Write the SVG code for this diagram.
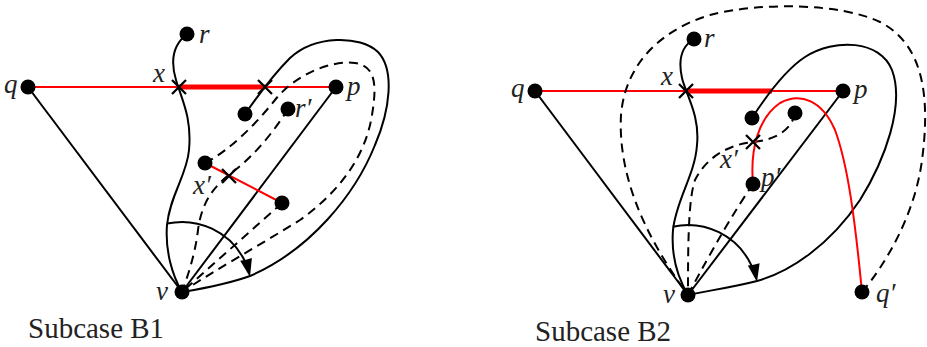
<svg xmlns="http://www.w3.org/2000/svg" width="927" height="347" viewBox="0 0 927 347">
<style>
.e{fill:none;stroke:#000;stroke-width:2}
.d{fill:none;stroke:#000;stroke-width:2;stroke-dasharray:9 6}
.r{fill:none;stroke:#f00;stroke-width:2}
.rt{fill:none;stroke:#f00;stroke-width:5}
.x{fill:none;stroke:#000;stroke-width:2.3}
.n{fill:#000}
.a{fill:#000}
.l{font-family:"Liberation Serif","DejaVu Serif",serif;font-style:italic;font-size:27px;fill:#222}
.c{font-family:"Liberation Serif","DejaVu Serif",serif;font-size:29px;fill:#222}
</style>
<g id="connectors">
<!-- left figure -->
<line class="r" x1="28" y1="87" x2="336" y2="87"/>
<line class="rt" x1="179" y1="87" x2="265" y2="87"/>
<line class="e" x1="28" y1="87" x2="182" y2="292"/>
<line class="e" x1="336" y1="87" x2="182" y2="292"/>
<path class="e" d="M187,34 C174,44 170,60 176,80 C182,100 192,118 189,150 C187,175 170,195 167,225 C165,250 172,275 182,292"/>
<path class="e" d="M245,114 C255,100 270,78 290,58 C315,35 360,35 378,52 C395,70 390,110 375,145 C355,195 310,250 250,276 C225,285 200,289 182,292"/>
<path class="d" d="M205,163 C230,150 255,125 275,100 C295,75 330,60 355,63 C378,66 376,90 372,115 C365,160 335,195 300,220 C260,245 215,270 182,292"/>
<path class="d" d="M288,109 C275,130 255,155 235,170 C215,185 202,200 198,230 C195,255 188,275 182,292"/>
<line class="d" x1="282" y1="203" x2="182" y2="292"/>
<line class="r" x1="205" y1="163" x2="282" y2="203"/>
<path class="e" d="M167,223.6 A70,70 0 0 1 244.4,260.2"/>
<path class="a" d="M250,277 L251.9,258.1 L246.1,259.8 L240.2,260.7 Z"/>
<!-- right figure -->
<line class="r" x1="535" y1="91" x2="843" y2="91"/>
<line class="rt" x1="686" y1="91" x2="772" y2="91"/>
<line class="e" x1="535" y1="91" x2="688" y2="295"/>
<line class="e" x1="843" y1="91" x2="688" y2="295"/>
<path class="e" d="M694,39 C682,46 678,60 682,78 C686,95 700,115 697,145 C695,175 676,200 673,230 C671,255 678,278 688,295"/>
<path class="e" d="M752,118 C765,98 785,70 805,57 C835,38 880,40 892,70 C905,105 885,160 860,200 C830,245 790,272 757,281 C730,288 705,291 688,295"/>
<path class="d" d="M862,292 C885,265 915,215 922,160 C930,100 925,45 880,22 C840,3 760,2 710,15 C660,30 625,65 621,115 C618,170 640,230 688,295"/>
<path class="d" d="M795,113 C792,130 775,140 753,142 C725,145 705,160 695,180 C688,200 688,250 688,295"/>
<path class="d" d="M753,184 Q725,225 688,295"/>
<path class="r" d="M753,184 C750,150 758,118 780,103 C800,92 822,100 835,130 C848,165 855,220 862,292"/>
<path class="e" d="M672.7,226.7 A70,70 0 0 1 751.4,265.4"/>
<path class="a" d="M757,282 L759.6,263.2 L753.7,264.8 L747.8,265.4 Z"/>
<!-- crosses -->
<path class="x" d="M172,80 L186,94 M186,80 L172,94"/>
<path class="x" d="M258,80 L272,94 M272,80 L258,94"/>
<path class="x" d="M222,169 L236,183 M236,169 L222,183"/>
<path class="x" d="M679,84 L693,98 M693,84 L679,98"/>
<path class="x" d="M746,135 L760,149 M760,135 L746,149"/>
</g>
<g id="B1-q"><circle class="n" cx="28" cy="87" r="7.5"/><text class="l" x="4" y="93">q</text></g>
<g id="B1-r"><circle class="n" cx="187" cy="34" r="7.5"/><text class="l" x="199" y="43">r</text></g>
<g id="B1-p"><circle class="n" cx="336" cy="87" r="7.5"/><text class="l" x="347" y="95">p</text></g>
<g id="B1-x"><text class="l" x="153" y="82">x</text></g>
<g id="B1-n1"><circle class="n" cx="245" cy="114" r="7.5"/></g>
<g id="B1-rp"><circle class="n" cx="288" cy="109" r="7.5"/><text class="l" x="295" y="117">r′</text></g>
<g id="B1-n2"><circle class="n" cx="205" cy="163" r="7.5"/></g>
<g id="B1-n3"><circle class="n" cx="282" cy="203" r="7.5"/></g>
<g id="B1-xp"><text class="l" x="193" y="194">x′</text></g>
<g id="B1-v"><circle class="n" cx="182" cy="292" r="7.5"/><text class="l" x="156" y="300">v</text></g>
<g id="B1-caption"><text class="c" x="28" y="338">Subcase B1</text></g>
<g id="B2-q"><circle class="n" cx="535" cy="91" r="7.5"/><text class="l" x="511" y="97">q</text></g>
<g id="B2-r"><circle class="n" cx="694" cy="39" r="7.5"/><text class="l" x="704" y="47">r</text></g>
<g id="B2-p"><circle class="n" cx="843" cy="91" r="7.5"/><text class="l" x="854" y="98">p</text></g>
<g id="B2-x"><text class="l" x="661" y="85">x</text></g>
<g id="B2-n1"><circle class="n" cx="752" cy="118" r="7.5"/></g>
<g id="B2-n2"><circle class="n" cx="795" cy="113" r="7.5"/></g>
<g id="B2-xp"><text class="l" x="720" y="168">x′</text></g>
<g id="B2-pp"><circle class="n" cx="753" cy="184" r="7.5"/><text class="l" x="761" y="186">p′</text></g>
<g id="B2-v"><circle class="n" cx="688" cy="295" r="7.5"/><text class="l" x="663" y="303">v</text></g>
<g id="B2-qp"><circle class="n" cx="862" cy="292" r="7.5"/><text class="l" x="876" y="302">q′</text></g>
<g id="B2-caption"><text class="c" x="535" y="341">Subcase B2</text></g>
</svg>
